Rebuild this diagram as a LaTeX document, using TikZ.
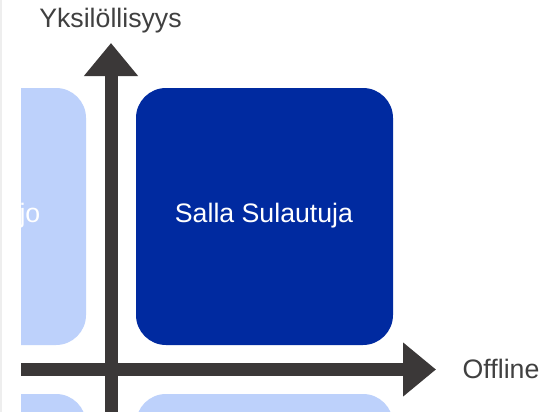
\documentclass[tikz,border=0pt]{standalone}
\usepackage{fontspec}
\setmainfont{Liberation Sans}
\usetikzlibrary{arrows.meta}
\definecolor{darkblue}{HTML}{002AA0}
\definecolor{lightblue}{HTML}{BDD1FB}
\definecolor{axisgray}{HTML}{3B3838}
\definecolor{labelgray}{HTML}{404040}
\definecolor{edgegray}{HTML}{EEEEEE}
\tikzset{
  quad/.style={rounded corners=30pt, minimum width=257pt, minimum height=257pt, inner sep=0pt, text=white, font=\fontsize{26.7}{30}\selectfont},
  axis/.style={draw=axisgray, line width=13pt, -{Triangle[length=33pt,width=52pt]}},
  axlabel/.style={text=labelgray, inner sep=0pt, font=\fontsize{26.7}{30}\selectfont}
}
\begin{document}
\begin{tikzpicture}[x=1pt,y=-1pt]
\useasboundingbox (0,0) rectangle (546,412);
\fill[white] (0,0) rectangle (546,412);
\draw[edgegray, line width=1.5pt] (0.75,0) -- (0.75,412);
\begin{scope}
\clip (21,0) rectangle (546,412);
\node[quad, fill=lightblue] (tl) at (-42.5,216.5) {};
\node[quad, fill=darkblue] (tr) at (264.5,216.5) {};
\node[quad, fill=lightblue] (bl) at (-42.5,522.5) {};
\node[quad, fill=lightblue] (br) at (264.5,522.5) {};
\node[text=white, inner sep=0pt, anchor=base east, font=\fontsize{26.7}{30}\selectfont] (tltext) at (40.5,222) {jo};
\node[text=white, inner sep=0pt, anchor=base, font=\fontsize{26.7}{30}\selectfont] (trtext) at (264,222) {Salla Sulautuja};
\coordinate (hstart) at (10,369.5);
\coordinate (hend) at (436,369.5);
\coordinate (vstart) at (111,430);
\coordinate (vend) at (111,43);
\draw[axis] (hstart) -- (hend);
\draw[axis] (vstart) -- (vend);
\end{scope}
\node[axlabel, anchor=base] (ylab) at (110.5,28) {Yksilöllisyys};
\node[axlabel, anchor=base west] (xlab) at (462.5,378) {Offline};
\end{tikzpicture}
\end{document}
